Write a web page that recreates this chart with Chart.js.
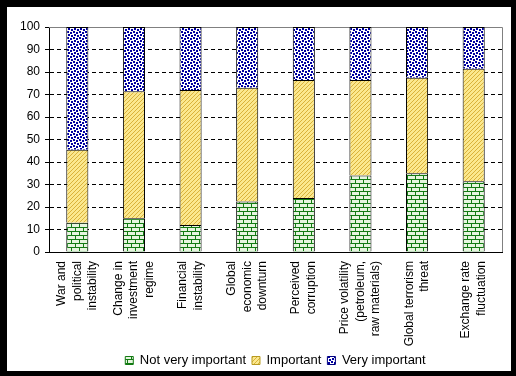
<!DOCTYPE html>
<html lang="en">
<head>
    <meta charset="UTF-8">
    <title>Risk factors</title>
    <script src="https://cdn.jsdelivr.net/npm/chart.js"></script>
    <style>
        html, body { margin: 0; padding: 0; background: #000; }
        body { width: 516px; height: 376px; position: relative; overflow: hidden; }
        .frame { position: absolute; left: 7px; top: 7px; width: 504px; height: 364px; background: #fff; overflow: hidden; }
        .inner { position: relative; width: 504px; height: 370px; }
    </style>
</head>
<body>
    <div class="frame">
        <div class="inner">
            <canvas id="riskChart"></canvas>
        </div>
    </div>
    <script>
        const categories = [
            ['War and', 'political', 'instability'],
            ['Change in', 'investment', 'regime'],
            ['Financial', 'instability'],
            ['Global', 'economic', 'downturn'],
            ['Perceived', 'corruption'],
            ['Price volatility', '(petroleum,', 'raw materials)'],
            ['Global terrorism', 'threat'],
            ['Exchange rate', 'fluctuation']
        ];
        const seriesNames = ['Not very important', 'Important', 'Very important'];
        const notVeryImportant = [13, 15, 12, 22.5, 24, 34, 35, 31.5];
        const important = [32.5, 56.5, 60, 50.5, 52.5, 42.5, 42.5, 50];
        const veryImportant = [54.5, 28.5, 28, 27, 23.5, 23.5, 22.5, 18.5];
        const yTicks = [0, 10, 20, 30, 40, 50, 60, 70, 80, 90, 100];

        const font = '"Liberation Sans", Arial, sans-serif';

        function makePattern(w, h, draw) {
            const c = document.createElement('canvas');
            c.width = w;
            c.height = h;
            const g = c.getContext('2d');
            draw(g);
            return g.createPattern(c, 'repeat');
        }

        // brick pattern (green)
        const brick = makePattern(8, 8, g => {
            g.fillStyle = '#e6f5df';
            g.fillRect(0, 0, 8, 8);
            g.fillStyle = '#127a12';
            g.fillRect(0, 0, 8, 1);
            g.fillRect(0, 4, 8, 1);
            g.fillRect(0, 0, 1, 4);
            g.fillRect(4, 4, 1, 4);
        });

        // diagonal hatch (yellow)
        const hatch = makePattern(4, 4, g => {
            g.fillStyle = '#fbe88e';
            g.fillRect(0, 0, 4, 4);
            g.fillStyle = '#d9b23a';
            g.fillRect(0, 3, 1, 1);
            g.fillRect(1, 2, 1, 1);
            g.fillRect(2, 1, 1, 1);
            g.fillRect(3, 0, 1, 1);
        });

        // confetti dots (blue)
        const dots = makePattern(6, 6, g => {
            g.fillStyle = '#ffffff';
            g.fillRect(0, 0, 6, 6);
            g.fillStyle = '#0000a0';
            [[0, 0], [3, 1], [1, 3], [4, 4]].forEach(p => g.fillRect(p[0], p[1], 2, 2));
        });

        const legendEdge = ['#127a12', '#b89a20', '#000080'];

        // grey top/right edge of the plot area
        const plotFrame = {
            id: 'plotFrame',
            afterLayout(chart) {
                // centre the legend under the plot area rather than the canvas
                chart.legend.left += 21;
                chart.legend.right += 21;
            },
            beforeDatasetsDraw(chart) {
                const a = chart.chartArea;
                const ctx = chart.ctx;
                ctx.save();
                ctx.strokeStyle = '#808080';
                ctx.lineWidth = 1;
                ctx.beginPath();
                ctx.moveTo(a.left, a.top + 0.5);
                ctx.lineTo(a.right + 0.5, a.top + 0.5);
                ctx.lineTo(a.right + 0.5, a.bottom);
                ctx.stroke();
                ctx.restore();
            }
        };

        // vertical multi-line category labels, centred on each tick
        const xLabels = {
            id: 'xLabels',
            afterDraw(chart) {
                const scale = chart.scales.x;
                const ctx = chart.ctx;
                const lh = 15.5;
                ctx.save();
                ctx.fillStyle = '#000';
                ctx.font = '12px ' + font;
                ctx.textAlign = 'right';
                ctx.textBaseline = 'middle';
                categories.forEach((lines, i) => {
                    const x = scale.getPixelForTick(i);
                    ctx.save();
                    ctx.translate(x, scale.top + 9);
                    ctx.rotate(-Math.PI / 2);
                    lines.forEach((t, j) => {
                        ctx.fillText(t, 0, (j - (lines.length - 1) / 2) * lh);
                    });
                    ctx.restore();
                });
                ctx.restore();
            }
        };

        const ctx = document.getElementById('riskChart').getContext('2d');
        new Chart(ctx, {
            type: 'bar',
            data: {
                labels: categories.map(c => c.join(' ')),
                datasets: [
                    { label: seriesNames[0], data: notVeryImportant, backgroundColor: brick },
                    { label: seriesNames[1], data: important, backgroundColor: hatch },
                    { label: seriesNames[2], data: veryImportant, backgroundColor: dots }
                ].map(d => Object.assign(d, {
                    borderColor: '#000',
                    borderWidth: 1,
                    barPercentage: 0.39,
                    categoryPercentage: 1
                }))
            },
            plugins: [plotFrame, xLabels],
            options: {
                responsive: true,
                maintainAspectRatio: false,
                animation: false,
                layout: { padding: { left: 0, top: 20, right: 9, bottom: 0 } },
                plugins: {
                    tooltip: { enabled: false },
                    legend: {
                        position: 'bottom',
                        labels: {
                            boxWidth: 8,
                            boxHeight: 8,
                            padding: 6,
                            color: '#000',
                            font: { family: font, size: 13 },
                            generateLabels(chart) {
                                const items = Chart.defaults.plugins.legend.labels.generateLabels(chart);
                                items.forEach((it, i) => {
                                    it.strokeStyle = legendEdge[i];
                                    it.lineWidth = 1;
                                });
                                return items;
                            }
                        }
                    }
                },
                scales: {
                    x: {
                        stacked: true,
                        grid: { display: false },
                        border: { display: true, color: '#000', width: 1 },
                        ticks: { display: false },
                        afterFit(scale) { scale.height = 96; }
                    },
                    y: {
                        stacked: true,
                        min: 0,
                        max: 100,
                        afterBuildTicks(scale) { scale.ticks = yTicks.map(v => ({ value: v })); },
                        grid: {
                            color: c => (c.tick.value === 0 || c.tick.value === 100) ? 'rgba(0,0,0,0)' : '#000',
                            lineWidth: 1,
                            drawTicks: true,
                            tickLength: 4,
                            tickColor: '#000',
                            tickBorderDash: []
                        },
                        border: { display: true, color: '#000', width: 1, dash: [4, 3] },
                        ticks: {
                            color: '#000',
                            font: { family: font, size: 12 },
                            padding: 5
                        },
                        afterFit(scale) { scale.width = 42; }
                    }
                }
            }
        });
    </script>
</body>
</html>
